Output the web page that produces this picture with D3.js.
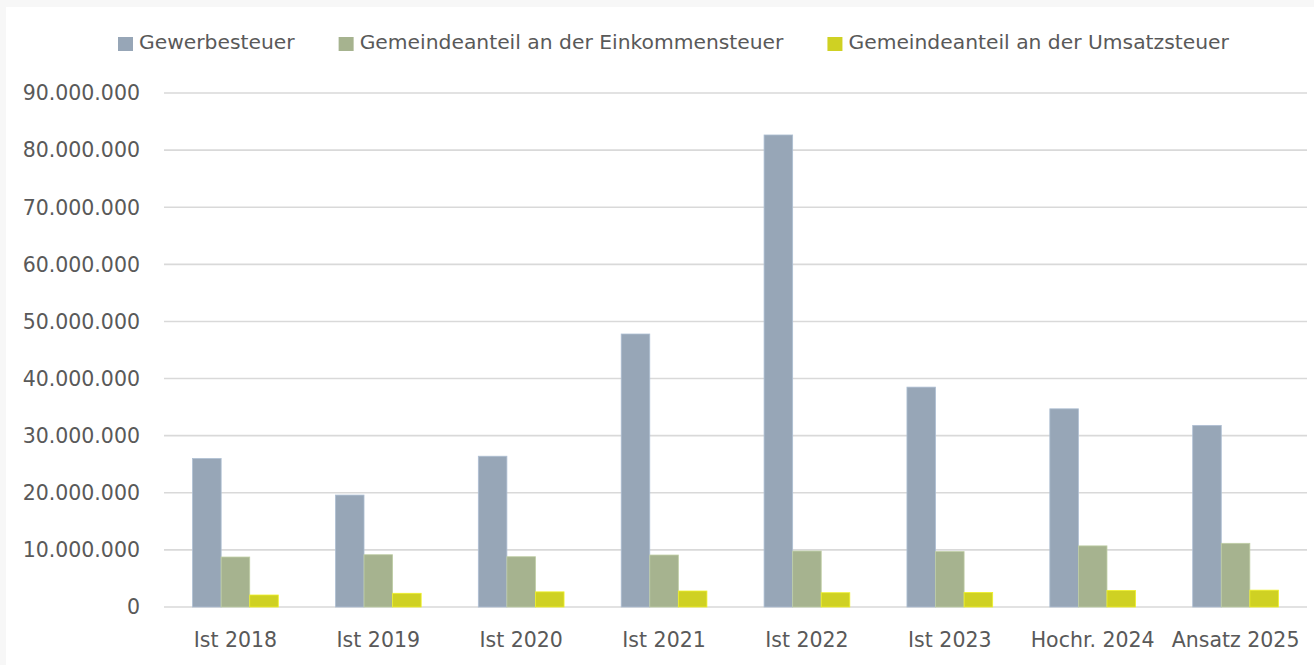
<!DOCTYPE html>
<html>
<head>
<meta charset="utf-8">
<script src="https://cdn.jsdelivr.net/npm/d3@7"></script>
<style>
  body { margin:0; background:#f7f7f7; }
  svg { display:block; }
  text { font-family:"DejaVu Sans", Verdana, sans-serif; fill:#595959; }
</style>
</head>
<body>
<div id="plot"></div>
<script>
// data
var categories = ['Ist 2018','Ist 2019','Ist 2020','Ist 2021','Ist 2022','Ist 2023','Hochr. 2024','Ansatz 2025'];
var seriesNames = ['Gewerbesteuer','Gemeindeanteil an der Einkommensteuer','Gemeindeanteil an der Umsatzsteuer'];
var gewerbesteuer = [26000000,19600000,26400000,47800000,82650000,38500000,34700000,31800000];
var einkommensteuer = [8750000,9150000,8800000,9100000,9800000,9700000,10700000,11150000];
var umsatzsteuer = [2100000,2400000,2650000,2800000,2500000,2550000,2900000,2950000];
var yTicks = [0,10000000,20000000,30000000,40000000,50000000,60000000,70000000,80000000,90000000];
var colors = ['#97a6b7','#a6b38f','#cfd123'];

var W = 1314, H = 665;
var margin = {t:93, r:7, b:58, l:164};
var width = W - margin.l - margin.r,
    height = H - margin.t - margin.b;

var svg = d3.select('#plot').append('svg')
  .attr('width', W).attr('height', H);

// white chart area on the grey page
svg.append('rect')
  .attr('x',6).attr('y',7)
  .attr('width',W-6).attr('height',H-7)
  .style('fill','#fff');

var plot = svg.append('g')
  .attr('transform','translate('+margin.l+','+margin.t+')');

var x = d3.scaleBand().domain(categories).range([0,width]).paddingInner(0).paddingOuter(0);
var x1 = d3.scaleBand().domain(d3.range(3)).range([x.bandwidth()*0.2, x.bandwidth()*0.8]);
var y = d3.scaleLinear().domain([0,90000000]).range([height,0]);

var fmt = function(d){ return d3.format(',')(d).replace(/,/g,'.'); };

// gridlines
plot.selectAll('.grid').data(yTicks).enter().append('line')
  .attr('x1',0).attr('x2',width)
  .attr('y1',function(d){return y(d);}).attr('y2',function(d){return y(d);})
  .style('stroke','#d9d9d9').style('stroke-width',1.6);

// y axis labels
plot.selectAll('.ylab').data(yTicks).enter().append('text')
  .attr('x',-24).attr('y',function(d){return y(d);})
  .attr('dy','0.36em')
  .attr('text-anchor','end')
  .style('font-size','20.5px')
  .text(fmt);

// bars
var series = [gewerbesteuer, einkommensteuer, umsatzsteuer];
series.forEach(function(vals, s){
  plot.selectAll('.bar'+s).data(vals).enter().append('rect')
    .attr('x',function(d,i){return x(categories[i]) + x1(s);})
    .attr('y',function(d){return y(d);})
    .attr('width',x1.bandwidth())
    .attr('height',function(d){return height - y(d);})
    .style('fill',colors[s])
    .style('stroke',d3.color(colors[s]).brighter(0.4))
    .style('stroke-width',0.8);
});

// x labels
plot.selectAll('.xlab').data(categories).enter().append('text')
  .attr('x',function(d){return x(d) + x.bandwidth()/2;})
  .attr('y',height+40)
  .attr('text-anchor','middle')
  .style('font-size','20.5px')
  .text(function(d){return d;});

// legend
var legend = svg.append('g').attr('transform','translate(118,0)');
var lx = 0;
seriesNames.forEach(function(name, s){
  var g = legend.append('g').attr('transform','translate('+lx+',0)');
  g.append('rect').attr('x',0).attr('y',37).attr('width',15).attr('height',14).style('fill',colors[s]);
  var t = g.append('text').attr('x',21).attr('y',49)
    .style('font-size','20.3px').text(name);
  lx += 21 + t.node().getComputedTextLength() + 44;
});
</script>
</body>
</html>
